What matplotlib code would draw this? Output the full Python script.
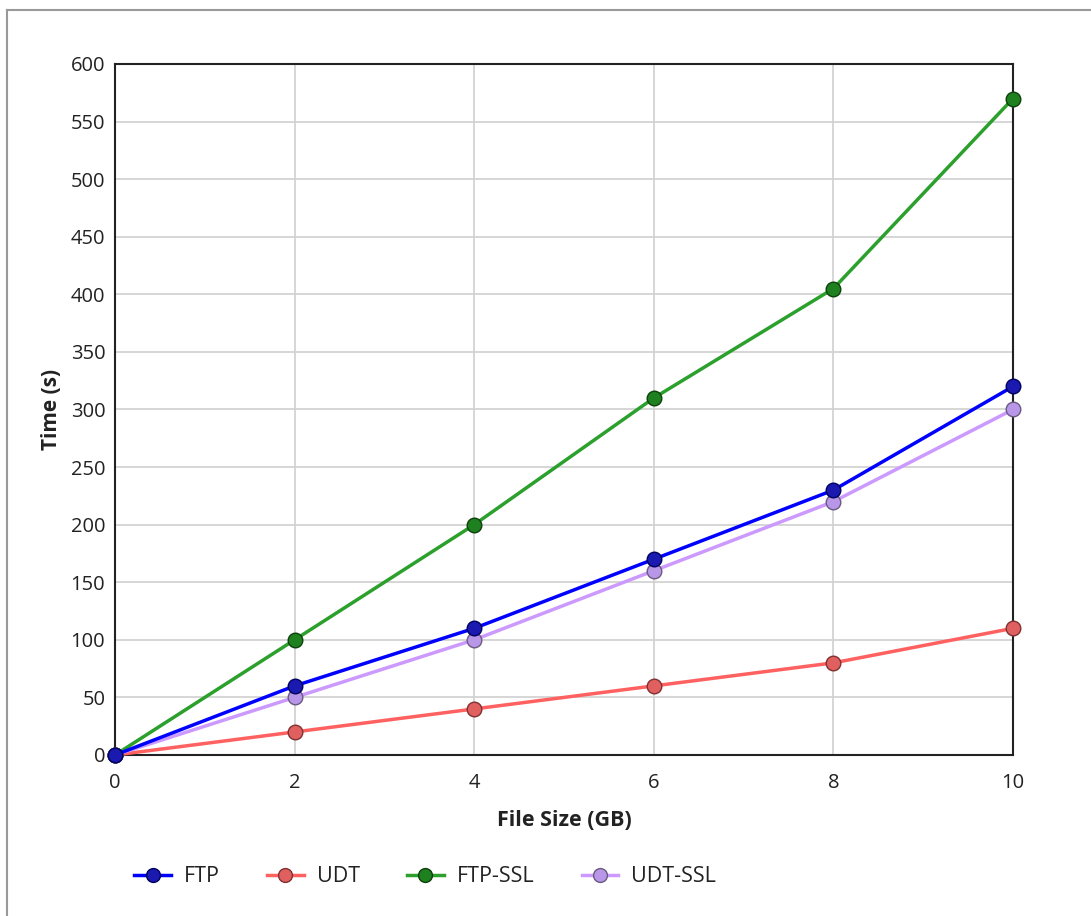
import matplotlib
matplotlib.use("Agg")
import matplotlib.pyplot as plt
from matplotlib.lines import Line2D

plt.rcParams['font.family'] = ['Open Sans', 'DejaVu Sans']

file_size = [0, 2, 4, 6, 8, 10]
ftp = [0, 60, 110, 170, 230, 320]
udt = [0, 20, 40, 60, 80, 110]
ftp_ssl = [0, 100, 200, 310, 405, 570]
udt_ssl = [0, 50, 100, 160, 220, 300]
series_names = ["FTP", "UDT", "FTP-SSL", "UDT-SSL"]

W, H = 1091, 916
fig = plt.figure(figsize=(W / 100, H / 100), dpi=100)
ax = fig.add_axes([115 / W, 1 - 755 / H, (1013 - 115) / W, (755 - 64) / H])

styles = [
    (ftp, "#0000ff", "#1a1ab0", "#000060", 6),
    (udt, "#ff6060", "#e06060", "#803030", 3),
    (ftp_ssl, "#2ca02c", "#1f801f", "#0d400d", 4),
    (udt_ssl, "#cc99ff", "#b896e8", "#6a5a80", 5),
]
handles = []
for i, (vals, lc, fc, ec, z) in enumerate(styles):
    h, = ax.plot(file_size, vals, color=lc, lw=2.5, marker='o', ms=10.5,
                 markerfacecolor=fc, markeredgecolor=ec, markeredgewidth=1.0,
                 clip_on=False, zorder=z, label=series_names[i])
    handles.append(h)

ax.set_xlim(0, 10)
ax.set_ylim(0, 600)
ax.set_xticks(file_size)
ax.set_yticks(range(0, 601, 50))
ax.grid(True, color="#d0d0d0", lw=1.2)
ax.set_axisbelow(True)
for s in ax.spines.values():
    s.set_color("#222222")
    s.set_linewidth(1.5)
ax.tick_params(length=0, labelsize=14.5, colors="#222222", pad=7)
ax.tick_params(axis='x', pad=13)
ax.set_xlabel("File Size (GB)", fontsize=15.5, fontweight='bold', color="#222222", labelpad=12)
ax.set_ylabel("Time (s)", fontsize=15, fontweight='bold', color="#222222", labelpad=6)

leg = fig.legend(handles=handles, loc='center left', bbox_to_anchor=(115 / W, 1 - 877 / H),
                 ncol=4, frameon=False, fontsize=15.5, handlelength=1.7, columnspacing=2.2,
                 handletextpad=0.6, markerscale=0.95)
for t in leg.get_texts():
    t.set_color("#222222")

fig.add_artist(Line2D([7 / W, 7 / W], [0, 1 - 10 / H], transform=fig.transFigure, color="#999999", lw=1.5))
fig.add_artist(Line2D([7 / W, 1], [1 - 10 / H, 1 - 10 / H], transform=fig.transFigure, color="#999999", lw=1.5))

fig.savefig("out.png", dpi=100)
